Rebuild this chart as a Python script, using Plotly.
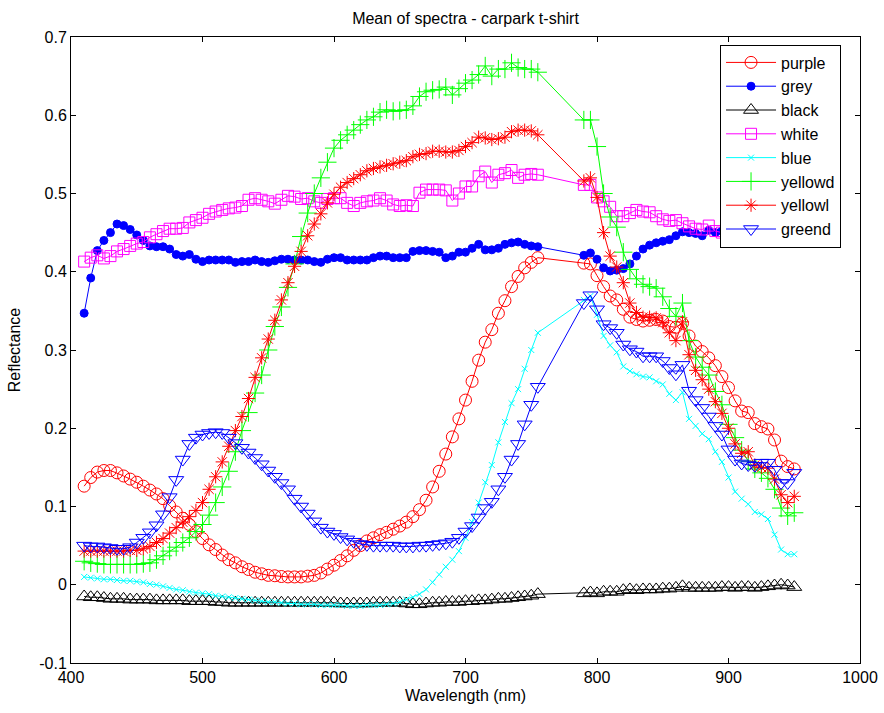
import plotly.graph_objects as go

# Sample wavelengths (nm); the detector has no samples between 755 and 790 nm
wavelength = [
    410, 415, 420, 425, 430, 435, 440, 445, 450, 455,
    460, 465, 470, 475, 480, 485, 490, 495, 500, 505,
    510, 515, 520, 525, 530, 535, 540, 545, 550, 555,
    560, 565, 570, 575, 580, 585, 590, 595, 600, 605,
    610, 615, 620, 625, 630, 635, 640, 645, 650, 655,
    660, 665, 670, 675, 680, 685, 690, 695, 700, 705,
    710, 715, 720, 725, 730, 735, 740, 745, 750, 755,
    790, 795, 800, 805, 810, 815, 820, 825, 830, 835,
    840, 845, 850, 855, 860, 865, 870, 875, 880, 885,
    890, 895, 900, 905, 910, 915, 920, 925, 930, 935,
    940, 945, 950,
]

purple = [
    .126, .137, .144, .146, .146, .143, .139, .135, .131, .126,
    .121, .116, .110, .101, .093, .085, .077, .068, .059, .051,
    .045, .038, .032, .028, .023, .0195, .016, .014, .012, .0115,
    .0105, .010, .010, .010, .011, .012, .015, .020, .025, .031,
    .037, .044, .050, .056, .060, .064, .067, .071, .075, .080,
    .087, .096, .108, .125, .145, .167, .189, .212, .236, .260,
    .287, .310, .326, .347, .363, .381, .394, .405, .412, .418,
    .411, .410, .395, .381, .369, .364, .352, .342, .339, .337,
    .338, .339, .337, .330, .329, .334, .318, .305, .298, .290,
    .280, .266, .252, .235, .222, .220, .206, .202, .199, .185,
    .158, .151, .148,
]

grey = [
    .347, .392, .427, .440, .450, .461, .459, .454, .447, .440,
    .433, .432, .432, .429, .422, .420, .422, .416, .413, .415,
    .415, .415, .415, .412, .413, .413, .415, .413, .412, .414,
    .416, .416, .415, .415, .415, .413, .412, .416, .418, .418,
    .415, .415, .415, .415, .418, .420, .420, .418, .418, .418,
    .426, .427, .427, .426, .425, .418, .420, .425, .425, .430,
    .435, .428, .428, .430, .435, .437, .438, .435, .433, .432,
    .421, .424, .416, .405, .401, .402, .404, .410, .420, .429,
    .434, .437, .439, .441, .446, .451, .450, .449, .446, .453,
    .450, .452, .452, .453, .452, .454, .453, .455, .454, .456,
    .455, .457, .456,
]

black = [
    -.015, -.016, -.016, -.017, -.018, -.018, -.018, -.019, -.019, -.019,
    -.019, -.020, -.020, -.020, -.020, -.020, -.021, -.021, -.021, -.021,
    -.022, -.022, -.023, -.023, -.023, -.023, -.023, -.023, -.023, -.023,
    -.023, -.023, -.023, -.023, -.023, -.023, -.023, -.023, -.023, -.024,
    -.024, -.024, -.024, -.024, -.023, -.023, -.023, -.023, -.023, -.024,
    -.025, -.025, -.024, -.023, -.023, -.022, -.022, -.022, -.021, -.021,
    -.020, -.020, -.019, -.018, -.018, -.017, -.016, -.015, -.014, -.012,
    -.011, -.010, -.011, -.009, -.009, -.009, -.007, -.006, -.007, -.006,
    -.006, -.006, -.005, -.005, -.004, -.002, -.004, -.004, -.004, -.004,
    -.004, -.003, -.003, -.004, -.003, -.003, -.004, -.003, -.002, -.001,
    .000, -.001, -.003,
]

white = [
    .413, .418, .421, .417, .420, .426, .429, .433, .436, .438,
    .444, .448, .452, .455, .455, .456, .463, .466, .469, .474,
    .477, .479, .481, .482, .484, .492, .494, .492, .490, .487,
    .492, .497, .496, .493, .494, .490, .488, .493, .494, .494,
    .488, .484, .488, .490, .491, .494, .491, .486, .484, .485,
    .484, .501, .505, .505, .505, .504, .491, .500, .509, .509,
    .522, .528, .514, .524, .526, .530, .520, .524, .525, .524,
    .511, .511, .495, .490, .483, .471, .471, .475, .479, .477,
    .476, .471, .467, .465, .466, .462, .458, .455, .454, .459,
    .452, .450, .450, .449, .447, .447, .446, .445, .444, .444,
    .443, .442, .441,
]

blue = [
    .010, .009, .008, .007, .007, .006, .005, .005, .004, .003,
    .001, .000, -.002, -.004, -.006, -.007, -.009, -.010, -.011, -.012,
    -.014, -.015, -.016, -.017, -.018, -.019, -.020, -.021, -.022, -.022,
    -.023, -.024, -.024, -.025, -.025, -.025, -.026, -.026, -.026, -.026,
    -.027, -.027, -.027, -.026, -.026, -.026, -.025, -.024, -.022, -.019,
    -.016, -.012, -.006, .003, .013, .023, .032, .043, .060, .080,
    .105, .131, .153, .182, .208, .232, .250, .276, .300, .322,
    .364, .369, .345, .318, .306, .297, .279, .273, .269, .266,
    .265, .260, .256, .244, .236, .246, .212, .203, .193, .186,
    .170, .157, .137, .119, .110, .103, .093, .090, .084, .064,
    .045, .039, .039,
]

yellowd = [
    .030, .028, .027, .026, .026, .026, .026, .026, .026, .027,
    .028, .032, .037, .043, .048, .054, .060, .068, .077, .089,
    .105, .125, .145, .170, .197, .220, .245, .268, .300, .330,
    .355, .380, .410, .445, .475, .500, .520, .540, .558, .568,
    .575, .581, .588, .594, .598, .604, .607, .605, .606, .607,
    .612, .624, .630, .632, .633, .636, .626, .634, .641, .645,
    .652, .663, .650, .659, .659, .667, .661, .659, .659, .655,
    .594, .594, .560, .500, .470, .457, .425, .403, .391, .384,
    .381, .379, .368, .353, .343, .360, .312, .291, .278, .268,
    .247, .230, .205, .188, .172, .158, .148, .143, .136, .122,
    .098, .088, .092,
]

yellowl = [
    .043, .043, .043, .043, .043, .043, .043, .044, .044, .046,
    .049, .054, .059, .066, .073, .080, .087, .095, .105, .122,
    .138, .157, .177, .197, .215, .238, .265, .290, .314, .338,
    .364, .386, .407, .426, .446, .461, .474, .488, .499, .508,
    .514, .519, .524, .529, .532, .534, .536, .538, .540, .542,
    .547, .550, .551, .554, .554, .553, .553, .555, .560, .565,
    .572, .571, .569, .570, .572, .579, .581, .581, .580, .575,
    .516, .520, .495, .450, .420, .406, .386, .360, .348, .342,
    .342, .341, .335, .322, .312, .336, .294, .274, .262, .250,
    .234, .219, .200, .180, .168, .170, .153, .150, .149, .135,
    .115, .105, .113,
]

greend = [
    .050, .049, .049, .048, .047, .046, .046, .048, .054, .060,
    .067, .076, .090, .112, .134, .160, .180, .188, .192, .194,
    .195, .194, .188, .181, .175, .169, .162, .154, .146, .138,
    .130, .122, .110, .100, .091, .081, .073, .068, .065, .061,
    .058, .055, .052, .051, .050, .050, .050, .050, .049, .049,
    .049, .050, .050, .051, .052, .053, .055, .060, .068, .075,
    .086, .098, .106, .122, .138, .160, .180, .205, .230, .253,
    .360, .370, .352, .333, .328, .322, .307, .301, .298, .292,
    .292, .292, .286, .277, .269, .281, .248, .236, .226, .215,
    .203, .192, .173, .160, .155, .153, .152, .156, .156, .147,
    .130, .130, .143,
]

x_ticks = [400, 500, 600, 700, 800, 900, 1000]
y_ticks = [-0.1, 0, 0.1, 0.2, 0.3, 0.4, 0.5, 0.6, 0.7]
y_tick_labels = ["-0.1", "0", "0.1", "0.2", "0.3", "0.4", "0.5", "0.6", "0.7"]

# name, values, colour, marker symbol, marker size
series = [
    ("purple", purple, "#FF0000", "circle-open", 12),
    ("grey", grey, "#0000FF", "circle", 8),
    ("black", black, "#000000", "triangle-up-open", 13),
    ("white", white, "#FF00FF", "square-open", 11),
    ("blue", blue, "#00FFFF", "x-thin-open", 6),
    ("yellowd", yellowd, "#00FF00", "cross-thin-open", 13),
    ("yellowl", yellowl, "#FF0000", "asterisk-open", 11),
    ("greend", greend, "#0000FF", "triangle-down-open", 13),
]

FONT = "Liberation Sans, Arial, Helvetica, sans-serif"
TEXT = dict(family=FONT, size=16, color="black")

fig = go.Figure()
for name, values, colour, symbol, size in series:
    fig.add_trace(go.Scatter(
        x=wavelength, y=values, name=name, mode="lines+markers",
        line=dict(color=colour, width=1),
        marker=dict(symbol=symbol, size=size, color=colour,
                    line=dict(color=colour, width=1)),
    ))

axis_common = dict(
    showline=True, linecolor="black", linewidth=1, mirror="ticks",
    ticks="inside", ticklen=5, tickcolor="black", showgrid=False,
    zeroline=False, tickfont=TEXT, automargin=False,
)

fig.update_layout(
    width=884, height=713, autosize=False,
    margin=dict(l=71, r=24, t=37, b=50, pad=0),
    paper_bgcolor="white", plot_bgcolor="white",
    font=TEXT,
    title=dict(text="Mean of spectra - carpark t-shirt", x=0.5, xanchor="center",
               xref="paper", y=1 - 18 / 713, yanchor="middle", yref="container",
               font=TEXT),
    xaxis=dict(range=[400, 1000], tickvals=x_ticks, **axis_common,
               title=dict(text="Wavelength (nm)", standoff=4, font=TEXT)),
    yaxis=dict(range=[-0.1, 0.7], tickvals=y_ticks, ticktext=y_tick_labels,
               **axis_common,
               title=dict(text="Reflectance", standoff=14, font=TEXT)),
    legend=dict(x=0.8226, y=0.988, xanchor="left", yanchor="top",
                bgcolor="white", bordercolor="black", borderwidth=1,
                itemwidth=50, font=TEXT, tracegroupgap=0),
    showlegend=True,
)

fig.write_html("out.html")
